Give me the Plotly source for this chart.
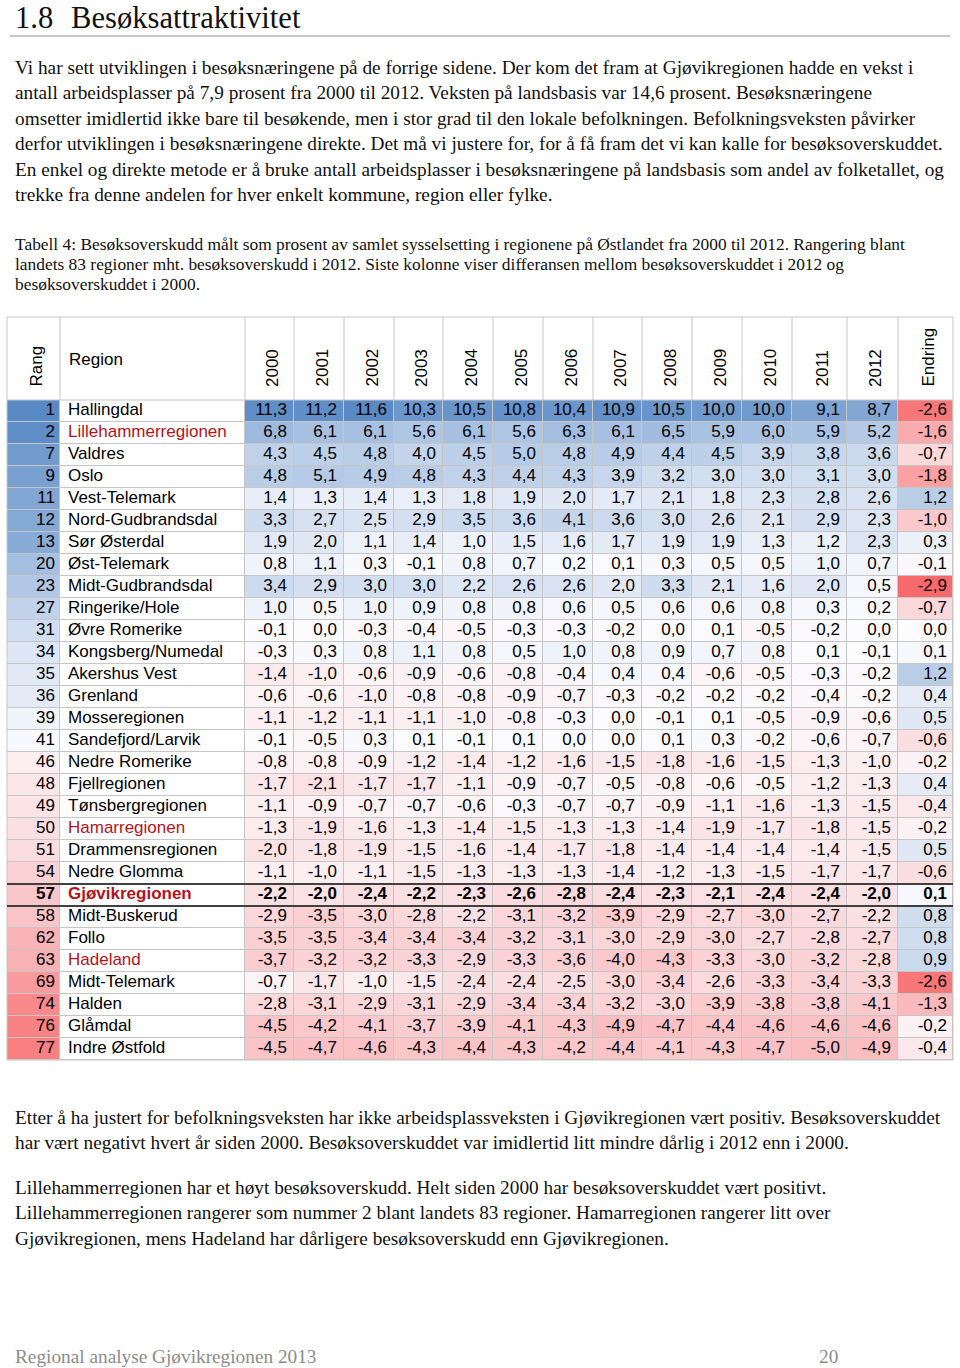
import plotly.graph_objects as go

# ---------------- data ----------------
YEARS = ['2000', '2001', '2002', '2003', '2004', '2005', '2006',
         '2007', '2008', '2009', '2010', '2011', '2012']
HEAD_RANG = 'Rang'
HEAD_REGION = 'Region'
HEAD_ENDRING = 'Endring'

RANG = [1, 2, 7, 9, 11, 12, 13, 20, 23, 27, 31, 34, 35, 36, 39,
        41, 46, 48, 49, 50, 51, 54, 57, 58, 62, 63, 69, 74, 76, 77]
N_NATIONAL = 83

REGIONS = ['Hallingdal', 'Lillehammerregionen', 'Valdres', 'Oslo', 'Vest-Telemark',
           'Nord-Gudbrandsdal', 'Sør Østerdal', 'Øst-Telemark', 'Midt-Gudbrandsdal',
           'Ringerike/Hole', 'Øvre Romerike', 'Kongsberg/Numedal', 'Akershus Vest',
           'Grenland', 'Mosseregionen', 'Sandefjord/Larvik', 'Nedre Romerike',
           'Fjellregionen', 'Tønsbergregionen', 'Hamarregionen', 'Drammensregionen',
           'Nedre Glomma', 'Gjøvikregionen', 'Midt-Buskerud', 'Follo', 'Hadeland',
           'Midt-Telemark', 'Halden', 'Glåmdal', 'Indre Østfold']
HIGHLIGHT = ['Lillehammerregionen', 'Hamarregionen', 'Hadeland', 'Gjøvikregionen']
FOCUS = 'Gjøvikregionen'

V2000 = [11.3, 6.8, 4.3, 4.8, 1.4, 3.3, 1.9, 0.8, 3.4, 1.0, -0.1, -0.3, -1.4, -0.6, -1.1,
         -0.1, -0.8, -1.7, -1.1, -1.3, -2.0, -1.1, -2.2, -2.9, -3.5, -3.7, -0.7, -2.8, -4.5, -4.5]
V2001 = [11.2, 6.1, 4.5, 5.1, 1.3, 2.7, 2.0, 1.1, 2.9, 0.5, 0.0, 0.3, -1.0, -0.6, -1.2,
         -0.5, -0.8, -2.1, -0.9, -1.9, -1.8, -1.0, -2.0, -3.5, -3.5, -3.2, -1.7, -3.1, -4.2, -4.7]
V2002 = [11.6, 6.1, 4.8, 4.9, 1.4, 2.5, 1.1, 0.3, 3.0, 1.0, -0.3, 0.8, -0.6, -1.0, -1.1,
         0.3, -0.9, -1.7, -0.7, -1.6, -1.9, -1.1, -2.4, -3.0, -3.4, -3.2, -1.0, -2.9, -4.1, -4.6]
V2003 = [10.3, 5.6, 4.0, 4.8, 1.3, 2.9, 1.4, -0.1, 3.0, 0.9, -0.4, 1.1, -0.9, -0.8, -1.1,
         0.1, -1.2, -1.7, -0.7, -1.3, -1.5, -1.5, -2.2, -2.8, -3.4, -3.3, -1.5, -3.1, -3.7, -4.3]
V2004 = [10.5, 6.1, 4.5, 4.3, 1.8, 3.5, 1.0, 0.8, 2.2, 0.8, -0.5, 0.8, -0.6, -0.8, -1.0,
         -0.1, -1.4, -1.1, -0.6, -1.4, -1.6, -1.3, -2.3, -2.2, -3.4, -2.9, -2.4, -2.9, -3.9, -4.4]
V2005 = [10.8, 5.6, 5.0, 4.4, 1.9, 3.6, 1.5, 0.7, 2.6, 0.8, -0.3, 0.5, -0.8, -0.9, -0.8,
         0.1, -1.2, -0.9, -0.3, -1.5, -1.4, -1.3, -2.6, -3.1, -3.2, -3.3, -2.4, -3.4, -4.1, -4.3]
V2006 = [10.4, 6.3, 4.8, 4.3, 2.0, 4.1, 1.6, 0.2, 2.6, 0.6, -0.3, 1.0, -0.4, -0.7, -0.3,
         0.0, -1.6, -0.7, -0.7, -1.3, -1.7, -1.3, -2.8, -3.2, -3.1, -3.6, -2.5, -3.4, -4.3, -4.2]
V2007 = [10.9, 6.1, 4.9, 3.9, 1.7, 3.6, 1.7, 0.1, 2.0, 0.5, -0.2, 0.8, 0.4, -0.3, 0.0,
         0.0, -1.5, -0.5, -0.7, -1.3, -1.8, -1.4, -2.4, -3.9, -3.0, -4.0, -3.0, -3.2, -4.9, -4.4]
V2008 = [10.5, 6.5, 4.4, 3.2, 2.1, 3.0, 1.9, 0.3, 3.3, 0.6, 0.0, 0.9, 0.4, -0.2, -0.1,
         0.1, -1.8, -0.8, -0.9, -1.4, -1.4, -1.2, -2.3, -2.9, -2.9, -4.3, -3.4, -3.0, -4.7, -4.1]
V2009 = [10.0, 5.9, 4.5, 3.0, 1.8, 2.6, 1.9, 0.5, 2.1, 0.6, 0.1, 0.7, -0.6, -0.2, 0.1,
         0.3, -1.6, -0.6, -1.1, -1.9, -1.4, -1.3, -2.1, -2.7, -3.0, -3.3, -2.6, -3.9, -4.4, -4.3]
V2010 = [10.0, 6.0, 3.9, 3.0, 2.3, 2.1, 1.3, 0.5, 1.6, 0.8, -0.5, 0.8, -0.5, -0.2, -0.5,
         -0.2, -1.5, -0.5, -1.6, -1.7, -1.4, -1.5, -2.4, -3.0, -2.7, -3.0, -3.3, -3.8, -4.6, -4.7]
V2011 = [9.1, 5.9, 3.8, 3.1, 2.8, 2.9, 1.2, 1.0, 2.0, 0.3, -0.2, 0.1, -0.3, -0.4, -0.9,
         -0.6, -1.3, -1.2, -1.3, -1.8, -1.4, -1.7, -2.4, -2.7, -2.8, -3.2, -3.4, -3.8, -4.6, -5.0]
V2012 = [8.7, 5.2, 3.6, 3.0, 2.6, 2.3, 2.3, 0.7, 0.5, 0.2, 0.0, -0.1, -0.2, -0.2, -0.6,
         -0.7, -1.0, -1.3, -1.5, -1.5, -1.5, -1.7, -2.0, -2.2, -2.7, -2.8, -3.3, -4.1, -4.6, -4.9]
ENDRING = [-2.6, -1.6, -0.7, -1.8, 1.2, -1.0, 0.3, -0.1, -2.9, -0.7, 0.0, 0.1, 1.2, 0.4, 0.5,
           -0.6, -0.2, 0.4, -0.4, -0.2, 0.5, -0.6, 0.1, 0.8, 0.8, 0.9, -2.6, -1.3, -0.2, -0.4]

SERIES = [V2000, V2001, V2002, V2003, V2004, V2005, V2006,
          V2007, V2008, V2009, V2010, V2011, V2012]

HEADING_NUM = '1.8'
HEADING = 'Besøksattraktivitet'
PARA1 = [
    'Vi har sett utviklingen i besøksnæringene på de forrige sidene. Der kom det fram at Gjøvikregionen hadde en vekst i',
    'antall arbeidsplasser på 7,9 prosent fra 2000 til 2012. Veksten på landsbasis var 14,6 prosent. Besøksnæringene',
    'omsetter imidlertid ikke bare til besøkende, men i stor grad til den lokale befolkningen. Befolkningsveksten påvirker',
    'derfor utviklingen i besøksnæringene direkte. Det må vi justere for, for å få fram det vi kan kalle for besøksoverskuddet.',
    'En enkel og direkte metode er å bruke antall arbeidsplasser i besøksnæringene på landsbasis som andel av folketallet, og',
    'trekke fra denne andelen for hver enkelt kommune, region eller fylke.',
]
CAPTION = [
    'Tabell 4: Besøksoverskudd målt som prosent av samlet sysselsetting i regionene på Østlandet fra 2000 til 2012. Rangering blant',
    'landets 83 regioner mht. besøksoverskudd i 2012. Siste kolonne viser differansen mellom besøksoverskuddet i 2012 og',
    'besøksoverskuddet i 2000.',
]
PARA2 = [
    'Etter å ha justert for befolkningsveksten har ikke arbeidsplassveksten i Gjøvikregionen vært positiv. Besøksoverskuddet',
    'har vært negativt hvert år siden 2000. Besøksoverskuddet var imidlertid litt mindre dårlig i 2012 enn i 2000.',
]
PARA3 = [
    'Lillehammerregionen har et høyt besøksoverskudd. Helt siden 2000 har besøksoverskuddet vært positivt.',
    'Lillehammerregionen rangerer som nummer 2 blant landets 83 regioner. Hamarregionen rangerer litt over',
    'Gjøvikregionen, mens Hadeland har dårligere besøksoverskudd enn Gjøvikregionen.',
]
FOOTER_LEFT = 'Regional analyse Gjøvikregionen 2013'
FOOTER_RIGHT = '20'

# ---------------- layout geometry (pixels) ----------------
W, H = 960, 1368
COL_EDGES = [7, 60, 245, 294, 344, 394, 443, 493, 543, 593, 642, 692, 742, 792, 847, 898, 953]
TABLE_TOP, HEAD_BOTTOM, TABLE_BOTTOM = 317, 400, 1060

SERIF = 'Liberation Serif, Times New Roman, serif'
SANS = 'Liberation Sans, Arial, sans-serif'
BLUE, WHITE, RED = '#5A8AC6', '#FCFCFF', '#F8696B'
DARKRED = '#B5121B'
GRID = '#C6C6C6'
BODY = 19.3
CAP = 17.4


def px(x):
    return x / W


def py(y):
    return 1 - y / H


def fmt(v):
    return f'{v:.1f}'.replace('.', ',')


n = len(REGIONS)
rows = list(range(n))
is_focus = [r == FOCUS for r in REGIONS]


def bold(s, flag):
    return f'<b>{s}</b>' if flag else s


fig = go.Figure()

# ---- cell colours (heatmaps) ----
fig.add_trace(go.Heatmap(
    x=COL_EDGES[0:2], y=rows, z=[[r] for r in RANG], zmin=1, zmax=N_NATIONAL,
    colorscale=[[0, BLUE], [0.5, WHITE], [1, RED]], showscale=False,
    xgap=1, ygap=1, hoverinfo='skip'))
fig.add_trace(go.Heatmap(
    x=COL_EDGES[1:3], y=rows, z=[[0] for _ in rows], zmin=0, zmax=1,
    colorscale=[[0, '#FFFFFF'], [1, '#FFFFFF']], showscale=False,
    xgap=1, ygap=1, hoverinfo='skip'))
vmax = max(abs(v) for s in SERIES for v in s)
fig.add_trace(go.Heatmap(
    x=COL_EDGES[2:2 + len(YEARS) + 1], y=rows,
    z=[[s[i] for s in SERIES] for i in rows], zmin=-vmax, zmax=vmax,
    colorscale=[[0, RED], [0.5, WHITE], [1, BLUE]], showscale=False,
    xgap=1, ygap=1, hoverinfo='skip'))
emax = max(abs(v) for v in ENDRING)
fig.add_trace(go.Heatmap(
    x=COL_EDGES[-2:], y=rows, z=[[v] for v in ENDRING], zmin=-emax, zmax=emax,
    colorscale=[[0, RED], [0.5, WHITE], [1, BLUE]], showscale=False,
    xgap=1, ygap=1, hoverinfo='skip'))

# ---- cell texts ----
TXT = dict(family=SANS, size=17, color='#000000')
fig.add_trace(go.Scatter(
    x=[COL_EDGES[1] - 5] * n, y=rows, mode='text', textposition='middle left',
    text=[bold(str(r), f) for r, f in zip(RANG, is_focus)], textfont=TXT, hoverinfo='skip'))
fig.add_trace(go.Scatter(
    x=[COL_EDGES[1] + 8] * n, y=rows, mode='text', textposition='middle right',
    text=[bold(r, f) for r, f in zip(REGIONS, is_focus)],
    textfont=dict(family=SANS, size=17,
                  color=[DARKRED if r in HIGHLIGHT else '#000000' for r in REGIONS]),
    hoverinfo='skip'))
for j, s in enumerate(SERIES):
    fig.add_trace(go.Scatter(
        x=[COL_EDGES[3 + j] - 7] * n, y=rows, mode='text', textposition='middle left',
        text=[bold(fmt(v), f) for v, f in zip(s, is_focus)], textfont=TXT, hoverinfo='skip'))
fig.add_trace(go.Scatter(
    x=[COL_EDGES[-1] - 6] * n, y=rows, mode='text', textposition='middle left',
    text=[bold(fmt(v), f) for v, f in zip(ENDRING, is_focus)], textfont=TXT, hoverinfo='skip'))

# ---- header ----
ann = []
centers = [(COL_EDGES[k] + COL_EDGES[k + 1]) / 2 for k in range(len(COL_EDGES) - 1)]
rot_labels = [(0, HEAD_RANG)] + [(2 + j, y) for j, y in enumerate(YEARS)] + [(len(centers) - 1, HEAD_ENDRING)]
for k, lab in rot_labels:
    ann.append(dict(x=centers[k] + 2.5, xref='x', y=py(388), yref='paper', text=lab,
                    textangle=-90, xanchor='center', yanchor='bottom', showarrow=False,
                    borderpad=0, font=dict(family=SANS, size=17, color='#000000')))
ann.append(dict(x=px(COL_EDGES[1] + 8), xref='paper', y=py(359), yref='paper', text=HEAD_REGION,
                xanchor='left', yanchor='middle', showarrow=False, borderpad=0,
                font=dict(family=SANS, size=17, color='#000000')))


def text_line(txt, x, baseline, size, color='#111111', family=SERIF):
    return dict(x=px(x), xref='paper', y=py(baseline - 0.3375 * size), yref='paper', text=txt,
                xanchor='left', yanchor='middle', showarrow=False, borderpad=0,
                font=dict(family=family, size=size, color=color))


for x0, t in ((14, HEADING_NUM), (70, HEADING)):
    ann.append(dict(x=px(x0), xref='paper', y=1, yref='paper', text=t,
                    xanchor='left', yanchor='top', showarrow=False, borderpad=0,
                    font=dict(family=SERIF, size=30.6, color='#111111')))
for i, t in enumerate(PARA1):
    ann.append(text_line(t, 14, 74 + 25.4 * i, BODY))
for i, t in enumerate(CAPTION):
    ann.append(text_line(t, 14, 249.5 + 20 * i, CAP))
for i, t in enumerate(PARA2):
    ann.append(text_line(t, 14, 1124 + 25.4 * i, BODY))
for i, t in enumerate(PARA3):
    ann.append(text_line(t, 14, 1194 + 25.4 * i, BODY))
ann.append(text_line(FOOTER_LEFT, 14, 1363.5, BODY, color='#8C8C8C'))
ann.append(text_line(FOOTER_RIGHT, 818, 1363.5, BODY, color='#8C8C8C'))

# ---- shapes: rules and table borders ----
shapes = [
    dict(type='line', xref='paper', yref='paper', x0=px(10), x1=px(950), y0=py(36), y1=py(36),
         line=dict(color='#B4B4B4', width=1.5)),
    dict(type='rect', xref='paper', yref='paper', x0=px(COL_EDGES[0]), x1=px(COL_EDGES[-1]),
         y0=py(TABLE_TOP), y1=py(TABLE_BOTTOM), line=dict(color=GRID, width=1)),
    dict(type='line', xref='paper', yref='paper', x0=px(COL_EDGES[0]), x1=px(COL_EDGES[-1]),
         y0=py(HEAD_BOTTOM), y1=py(HEAD_BOTTOM), line=dict(color=GRID, width=1)),
]
for e in COL_EDGES[1:-1]:
    shapes.append(dict(type='line', xref='x', yref='paper', x0=e, x1=e,
                       y0=py(HEAD_BOTTOM), y1=py(TABLE_TOP), line=dict(color=GRID, width=1)))
fi = REGIONS.index(FOCUS)
for yy in (fi - 0.5, fi + 0.5):
    shapes.append(dict(type='line', xref='paper', yref='y', x0=px(COL_EDGES[0]), x1=px(COL_EDGES[-1]),
                       y0=yy, y1=yy, line=dict(color='#404040', width=2)))

fig.update_layout(
    width=W, height=H, margin=dict(l=0, r=0, t=0, b=0),
    paper_bgcolor='#FFFFFF', plot_bgcolor=GRID, showlegend=False,
    xaxis=dict(domain=[px(COL_EDGES[0]), px(COL_EDGES[-1])], range=[COL_EDGES[0], COL_EDGES[-1]],
               visible=False, fixedrange=True),
    yaxis=dict(domain=[py(TABLE_BOTTOM), py(HEAD_BOTTOM)], range=[n - 0.5, -0.5],
               visible=False, fixedrange=True),
    annotations=ann, shapes=shapes,
)

fig.write_html('out.html', config={'displayModeBar': False, 'staticPlot': True},
               post_script="document.body.style.margin='0';document.body.style.overflow='hidden';")
